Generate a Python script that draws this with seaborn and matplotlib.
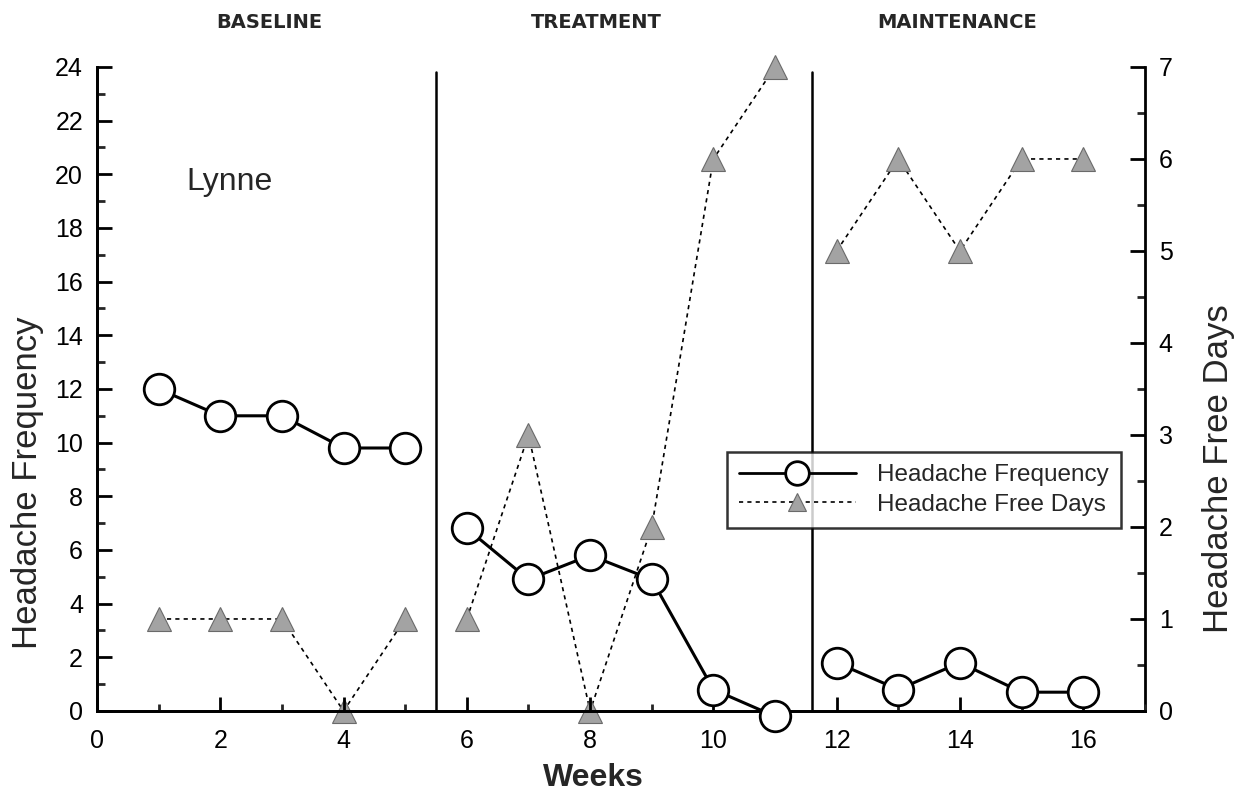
import matplotlib
matplotlib.use("Agg")
import matplotlib.pyplot as plt
import seaborn as sns
import pandas as pd
from matplotlib.lines import Line2D
from matplotlib.ticker import MultipleLocator

# ---- data ----
weeks = [1, 2, 3, 4, 5, 6, 7, 8, 9, 10, 11, 12, 13, 14, 15, 16]
phases = ["BASELINE"] * 5 + ["TREATMENT"] * 6 + ["MAINTENANCE"] * 5
headache_frequency = [12, 11, 11, 9.8, 9.8, 6.8, 4.9, 5.8, 4.9, 0.8, -0.2, 1.8, 0.8, 1.8, 0.7, 0.7]
headache_free_days = [1, 1, 1, 0, 1, 1, 3, 0, 2, 6, 7, 5, 6, 5, 6, 6]
phase_labels = ["BASELINE", "TREATMENT", "MAINTENANCE"]
phase_label_x = [2.8, 8.1, 13.95]
phase_change_x = [5.5, 11.6]
subject = "Lynne"

df = pd.DataFrame({"week": weeks, "phase": phases,
                   "freq": headache_frequency, "free": headache_free_days})

sns.set_theme(style="ticks")
plt.rcParams["font.family"] = ["Liberation Sans", "DejaVu Sans"]

fig = plt.figure(figsize=(12.39, 8.01), dpi=100)
ax1 = fig.add_axes([0.0783, 0.1124, 0.924 - 0.0783, 0.9164 - 0.1124])
ax2 = ax1.twinx()

tri_style = dict(marker="^", markerfacecolor="#a3a3a3", markeredgecolor="#6a6a6a",
                 markeredgewidth=0.8)
dash = (0, (2.5, 2.5))

# Headache free days (right axis)
sns.lineplot(data=df, x="week", y="free", units="phase", estimator=None, ax=ax2,
             color="black", lw=1.2, linestyle=dash, markersize=17,
             clip_on=False, legend=False, sort=False, **tri_style)
# Headache frequency (left axis)
sns.lineplot(data=df, x="week", y="freq", units="phase", estimator=None, ax=ax1,
             color="black", lw=2.2, marker="o", markersize=22,
             markerfacecolor="white", markeredgecolor="black", markeredgewidth=2,
             clip_on=False, legend=False, sort=False, zorder=5)
ax1.set_zorder(ax2.get_zorder() + 1)
ax1.patch.set_visible(False)

for xv in phase_change_x:
    ax1.plot([xv, xv], [0, 23.8], color="black", lw=1.8)

ax1.set_xlim(0, 17)
ax1.set_ylim(0, 24)
ax2.set_ylim(0, 7)

ax1.xaxis.set_major_locator(MultipleLocator(2))
ax1.xaxis.set_minor_locator(MultipleLocator(1))
ax1.yaxis.set_major_locator(MultipleLocator(2))
ax1.yaxis.set_minor_locator(MultipleLocator(1))
ax2.yaxis.set_major_locator(MultipleLocator(1))
ax2.yaxis.set_minor_locator(MultipleLocator(0.5))

for ax in (ax1, ax2):
    ax.spines["top"].set_visible(False)
    for s in ax.spines.values():
        s.set_linewidth(2)
        s.set_color("black")
    ax.tick_params(which="major", direction="in", length=11, width=2, labelsize=18,
                   colors="black", pad=10)
    ax.tick_params(which="minor", direction="in", length=6, width=2)
ax1.tick_params(axis="x", which="major", direction="in", length=10, labelsize=18, pad=13)
ax1.tick_params(axis="x", which="minor", direction="in", length=5)
ax1.spines["right"].set_visible(False)

ax1.set_xlabel("Weeks", fontsize=23, fontweight="bold")
ax1.set_ylabel("Headache Frequency", fontsize=25)
ax2.set_ylabel("Headache Free Days", fontsize=25)
ax1.xaxis.set_label_coords(0.474, -0.104, transform=ax1.transAxes)
ax1.yaxis.set_label_coords(-0.066, 0.354, transform=ax1.transAxes)
ax2.yaxis.set_label_coords(1.070, 0.377, transform=ax2.transAxes)
ax1.xaxis.label.set_va("center")
ax1.yaxis.label.set_va("center")
ax2.yaxis.label.set_va("center")

for lab, xv in zip(phase_labels, phase_label_x):
    ax1.text(xv, 25.3, lab, ha="center", va="bottom", fontsize=14,
             fontweight="bold", family="DejaVu Sans", clip_on=False)

ax1.text(1.45, 19.7, subject, fontsize=23, va="center", ha="left")

handles = [
    Line2D([0], [0], color="black", lw=2, marker="o", markersize=17,
           markerfacecolor="white", markeredgecolor="black", markeredgewidth=2),
    Line2D([0], [0], color="black", lw=1.2, linestyle=dash, markersize=13, **tri_style),
]
leg = ax1.legend(handles, ["Headache Frequency", "Headache Free Days"],
                 loc="upper left", bbox_to_anchor=(0.601, 0.402), fontsize=17.5,
                 frameon=True, fancybox=False, handlelength=4.8, handletextpad=0.9,
                 borderpad=0.5, labelspacing=0.3, numpoints=1, borderaxespad=0)
leg.get_frame().set_edgecolor("black")
leg.get_frame().set_linewidth(1.8)
leg.get_frame().set_facecolor("white")
leg.set_zorder(10)

fig.savefig("out.png", dpi=100)
